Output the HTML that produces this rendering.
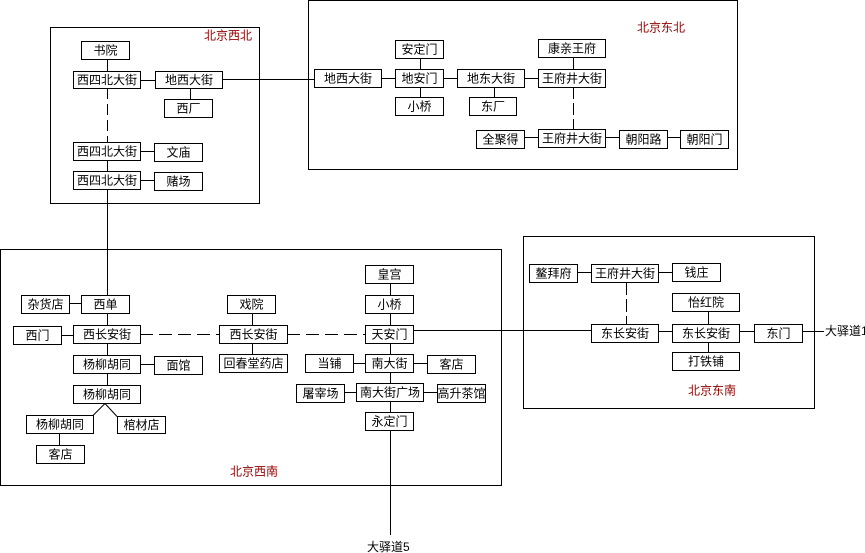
<!DOCTYPE html>
<html><head><meta charset="utf-8">
<style>
html,body{margin:0;padding:0;background:#fff;}
svg{display:block;}
text{font-family:"Liberation Sans","Noto Sans CJK SC","WenQuanYi Zen Hei",sans-serif;font-size:12px;fill:#000;}
.r{fill:#8f0000;}
</style></head>
<body>
<svg width="865" height="553" viewBox="0 0 865 553" xmlns="http://www.w3.org/2000/svg" shape-rendering="crispEdges">
<g fill="none" stroke="#000" stroke-width="1">
<!-- region boxes -->
<rect x="50.5" y="27.5" width="209" height="176"/>
<rect x="308.5" y="0.5" width="429" height="169"/>
<rect x="0.5" y="249.5" width="501" height="236"/>
<rect x="523.5" y="236.5" width="291" height="172"/>

<!-- NW nodes -->
<rect x="81.5" y="41.5" width="48" height="18"/>
<rect x="73.5" y="71.5" width="67" height="17"/>
<rect x="155.5" y="71.5" width="67" height="17"/>
<rect x="164.5" y="99.5" width="48" height="18"/>
<rect x="73.5" y="142.5" width="67" height="18"/>
<rect x="154.5" y="143.5" width="48" height="18"/>
<rect x="73.5" y="171.5" width="67" height="18"/>
<rect x="154.5" y="172.5" width="48" height="18"/>
<!-- NE nodes -->
<rect x="314.5" y="69.5" width="67" height="18"/>
<rect x="395.5" y="40.5" width="48" height="18"/>
<rect x="395.5" y="69.5" width="48" height="18"/>
<rect x="395.5" y="97.5" width="48" height="18"/>
<rect x="457.5" y="69.5" width="67" height="18"/>
<rect x="469.5" y="97.5" width="47" height="18"/>
<rect x="538.5" y="39.5" width="67" height="18"/>
<rect x="538.5" y="69.5" width="67" height="18"/>
<rect x="538.5" y="129.5" width="67" height="18"/>
<rect x="476.5" y="130.5" width="48" height="18"/>
<rect x="619.5" y="130.5" width="48" height="18"/>
<rect x="680.5" y="130.5" width="48" height="18"/>
<!-- SW nodes -->
<rect x="21.5" y="295.5" width="48" height="18"/>
<rect x="81.5" y="295.5" width="48" height="18"/>
<rect x="13.5" y="326.5" width="48" height="18"/>
<rect x="73.5" y="325.5" width="67" height="18"/>
<rect x="227.5" y="295.5" width="48" height="18"/>
<rect x="219.5" y="325.5" width="68" height="18"/>
<rect x="219.5" y="354.5" width="68" height="18"/>
<rect x="73.5" y="355.5" width="67" height="18"/>
<rect x="154.5" y="356.5" width="48" height="18"/>
<rect x="73.5" y="385.5" width="67" height="18"/>
<rect x="26.5" y="415.5" width="67" height="18"/>
<rect x="117.5" y="416.5" width="48" height="17"/>
<rect x="36.5" y="445.5" width="48" height="18"/>
<rect x="365.5" y="265.5" width="48" height="18"/>
<rect x="365.5" y="295.5" width="48" height="18"/>
<rect x="365.5" y="325.5" width="48" height="18"/>
<rect x="305.5" y="354.5" width="48" height="18"/>
<rect x="365.5" y="354.5" width="48" height="18"/>
<rect x="427.5" y="355.5" width="48" height="18"/>
<rect x="296.5" y="384.5" width="48" height="18"/>
<rect x="356.5" y="383.5" width="67" height="18"/>
<rect x="437.5" y="384.5" width="48" height="18"/>
<rect x="365.5" y="412.5" width="48" height="18"/>
<!-- SE nodes -->
<rect x="529.5" y="264.5" width="48" height="18"/>
<rect x="591.5" y="264.5" width="67" height="18"/>
<rect x="672.5" y="263.5" width="48" height="18"/>
<rect x="591.5" y="324.5" width="67" height="18"/>
<rect x="672.5" y="324.5" width="67" height="18"/>
<rect x="672.5" y="293.5" width="67" height="18"/>
<rect x="672.5" y="352.5" width="67" height="18"/>
<rect x="754.5" y="324.5" width="48" height="18"/>

<!-- solid connectors -->
<path d="M107.5 59v12 M107.5 160v11 M107.5 189v106 M140 80.5h15 M222 79.5h92 M190.5 88v11 M140 151.5h14 M140 180.5h14"/>
<path d="M381 78.5h14 M420.5 58v11 M420.5 87v10 M443 78.5h14 M494.5 87v10 M524 78.5h14 M573.5 57v12 M524 137.5h14 M605 137.5h14 M667 137.5h13"/>
<path d="M69 303.5h12 M107.5 313v12 M107.5 343v12 M107.5 373v12 M61 335.5h12 M252.5 313v12 M252.5 343v11 M140 364.5h14 M59.5 433v12"/>
<path d="M105 403.5L93 415.5 M105 403.5L117 416.5" shape-rendering="auto"/>
<path d="M390.5 283v12 M390.5 313v12 M390.5 343v11 M390.5 372v11 M390.5 401v11 M390.5 430v105 M413 330.5h178 M353 363.5h12 M413 363.5h14 M344 392.5h12 M423 392.5h14"/>
<path d="M577 272.5h14 M658 272.5h14 M658 331.5h14 M708.5 311v13 M708.5 342v10 M739 331.5h15 M802 331.5h22"/>

<!-- dashed connectors -->
<path d="M107.5 88v54" stroke-dasharray="11,5"/>
<path d="M573.5 87v42" stroke-dasharray="12,4"/>
<path d="M626.5 282v42" stroke-dasharray="13,4"/>
<path d="M140 334.5h79" stroke-dasharray="13,6"/>
<path d="M287 334.5h78" stroke-dasharray="13,6"/>
</g>

<g text-anchor="middle" dominant-baseline="central">
<text x="105.5" y="50.5">书院</text>
<text x="107" y="80">西四北大街</text>
<text x="189" y="80">地西大街</text>
<text x="188.5" y="108.5">西厂</text>
<text x="107" y="151.5">西四北大街</text>
<text x="178.5" y="152.5">文庙</text>
<text x="107" y="180.5">西四北大街</text>
<text x="178.5" y="181.5">赌场</text>

<text x="348" y="78.5">地西大街</text>
<text x="419.5" y="49.5">安定门</text>
<text x="419.5" y="78.5">地安门</text>
<text x="419.5" y="106.5">小桥</text>
<text x="491" y="78.5">地东大街</text>
<text x="493" y="106.5">东厂</text>
<text x="572" y="48.5">康亲王府</text>
<text x="572" y="78.5">王府井大街</text>
<text x="572" y="138.5">王府井大街</text>
<text x="500.5" y="139.5">全聚得</text>
<text x="643.5" y="139.5">朝阳路</text>
<text x="704.5" y="139.5">朝阳门</text>

<text x="45.5" y="304.5">杂货店</text>
<text x="105.5" y="304.5">西单</text>
<text x="37.5" y="335.5">西门</text>
<text x="107" y="334.5">西长安街</text>
<text x="251.5" y="304.5">戏院</text>
<text x="253.5" y="334.5">西长安街</text>
<text x="253.5" y="363.5">回春堂药店</text>
<text x="107" y="364.5">杨柳胡同</text>
<text x="178.5" y="365.5">面馆</text>
<text x="107" y="394.5">杨柳胡同</text>
<text x="60" y="424.5">杨柳胡同</text>
<text x="141.5" y="425">棺材店</text>
<text x="60.5" y="454.5">客店</text>
<text x="389.5" y="274.5">皇宫</text>
<text x="389.5" y="304.5">小桥</text>
<text x="389.5" y="334.5">天安门</text>
<text x="329.5" y="363.5">当铺</text>
<text x="389.5" y="363.5">南大街</text>
<text x="451.5" y="364.5">客店</text>
<text x="320.5" y="393.5">屠宰场</text>
<text x="390" y="392.5">南大街广场</text>
<text x="461.5" y="393.5">高升茶馆</text>
<text x="389.5" y="421.5">永定门</text>

<text x="553.5" y="273.5">鳌拜府</text>
<text x="625" y="273.5">王府井大街</text>
<text x="696.5" y="272.5">钱庄</text>
<text x="625" y="333.5">东长安街</text>
<text x="706" y="333.5">东长安街</text>
<text x="706" y="302.5">怡红院</text>
<text x="706" y="361.5">打铁铺</text>
<text x="778.5" y="333.5">东门</text>
</g>

<g dominant-baseline="central">
<text class="r" x="204" y="35.5">北京西北</text>
<text class="r" x="637" y="27.5">北京东北</text>
<text class="r" x="230" y="471.5">北京西南</text>
<text class="r" x="688" y="390.5">北京东南</text>
<text x="367" y="547">大驿道5</text>
<text x="825" y="331">大驿道1</text>
</g>
</svg>
</body></html>
